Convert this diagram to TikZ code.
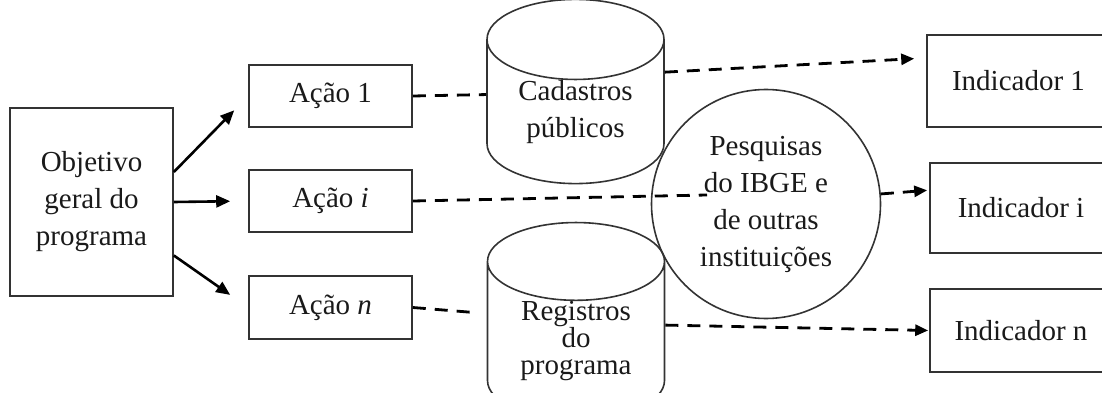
\documentclass[tikz,border=0pt]{standalone}
\usepackage{fontspec}
\setmainfont{Liberation Serif}
\usepackage{tikz}
\usetikzlibrary{arrows.meta,shapes.geometric}
\definecolor{prLine}{HTML}{333333}
\definecolor{prInk}{HTML}{1A1A1A}
\tikzset{
  pr diagram/.style={font=\fontsize{29}{37}\selectfont, text=prInk,
    line join=miter},
  pr box/.style={draw=prLine, fill=white, line width=1.6pt,
    rectangle, align=center, inner sep=4pt},
  pr store/.style={pr box, cylinder, shape border rotate=90, aspect=0.7,
    minimum width=177pt, inner sep=0pt, anchor=shape center},
  pr source/.style={pr box, circle, fill=none, minimum size=229pt},
  pr arrow/.style={-{Triangle[length=14pt,width=12pt]}, draw=black,
    line width=2.6pt},
  pr flow/.style={-{Triangle[length=13pt,width=11pt]}, draw=black,
    line width=2.8pt, dash pattern=on 13pt off 9pt}
}

\begin{document}
\begin{tikzpicture}[pr diagram, x=1pt, y=-1pt]
\clip (0,0) rectangle (1102,393);
\node[pr box,minimum width=163pt,minimum height=188pt] (obj) at (91.5,202) {Objetivo\\geral do\\programa};
\node[pr box,minimum width=163pt,minimum height=62pt] (acao1) at (330.5,96) {Ação 1};
\node[pr box,minimum width=163pt,minimum height=62pt] (acaoi) at (330.5,201) {Ação \textit{i}};
\node[pr box,minimum width=163pt,minimum height=63pt] (acaon) at (330.5,307.5) {Ação \textit{n}};
\node[pr store,minimum height=157pt] (cad) at (575.5,91.5) {Cadastros\\públicos};
\node[pr store,minimum height=162pt] (reg) at (576,321) {Registros\\[-10pt]do\\[-10pt]programa};
\node[pr source] (pesq) at (766,204) {Pesquisas\\do IBGE e\\de outras\\instituições};
\node[pr box,minimum width=183pt,minimum height=92pt] (ind1) at (1018.5,81) {Indicador 1};
\node[pr box,minimum width=182pt,minimum height=90pt] (indi) at (1021,208) {Indicador i};
\node[pr box,minimum width=182pt,minimum height=83pt] (indn) at (1021,330.5) {Indicador n};
\coordinate (ibge) at (707,195);
\draw[pr arrow,shorten >=20pt] (obj.20) -- (acao1.west);
\draw[pr arrow,shorten >=18pt] (obj.east) -- (acaoi.west);
\draw[pr arrow,shorten >=22pt] (obj.-33) -- (acaon.west);
\draw[pr flow,-] (acao1.east) -- (cad.169);
\draw[pr flow,shorten >=12pt] (cad.24) -- (ind1.166);
\draw[pr flow,-] (acaoi.east) -- (ibge);
\draw[pr flow,shorten >=2pt] (pesq.5) -- (indi.169);
\draw[pr flow,-,shorten >=14pt] (acaon.east) -- (reg.163);
\draw[pr flow,shorten >=1pt] (reg.10) -- (indn.west);
\end{tikzpicture}
\end{document}
